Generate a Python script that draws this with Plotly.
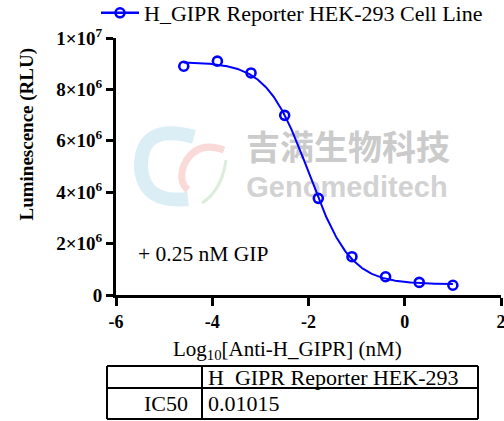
import numpy as np
import plotly.graph_objects as go

# ---------------- data ----------------
log_conc = [-4.592, -3.893, -3.194, -2.495, -1.796, -1.097, -0.398, 0.301, 1.0]
lum = [8.90e6, 9.10e6, 8.64e6, 6.99e6, 3.76e6, 1.49e6, 0.71e6, 0.49e6, 0.38e6]

# 4PL fit parameters
fit_top = 9.07e6
fit_bottom = 0.42e6
ic50_nM = 0.01015
hill = 1.0

x_ticks = [-6, -4, -2, 0, 2]
x_ticktext = ["-6", "-4", "-2", "0", "2"]
y_ticks = [0, 2e6, 4e6, 6e6, 8e6, 1e7]
y_ticktext = ["0", "2×10<sup>6</sup>", "4×10<sup>6</sup>", "6×10<sup>6</sup>",
              "8×10<sup>6</sup>", "1×10<sup>7</sup>"]

series_name = "H_GIPR Reporter HEK-293 Cell Line"
table_header = ["", "H_GIPR Reporter HEK-293"]
table_row = ["IC50", "0.01015"]

# ---------------- layout helpers ----------------
W, H = 504, 421
L, R, T, B = 116, 501, 38, 295   # plot area in pixels
XR = (-6, 2)
YR = (0, 1e7)
SERIF = "Times New Roman, Liberation Serif, Tinos, serif"


def px(x):
    return (x - L) / (R - L)


def py(y):
    return (B - y) / (B - T)


def dx(x):
    return XR[0] + (x - L) / (R - L) * (XR[1] - XR[0])


def dy(y):
    return YR[0] + (B - y) / (B - T) * (YR[1] - YR[0])


log_ic50 = np.log10(ic50_nM)
xc = np.linspace(min(log_conc), max(log_conc), 300)
yc = fit_bottom + (fit_top - fit_bottom) / (1 + 10 ** ((xc - log_ic50) * hill))

BLUE = "#0000ff"
fig = go.Figure()

# watermark (below the data)
fig.add_trace(go.Scatter(
    x=[dx(348), dx(347)], y=[dy(151), dy(190)], mode="text",
    text=["<b>吉满生物科技</b>", "<b>Genomeditech</b>"],
    textfont=dict(family=["Noto Sans CJK SC", "Liberation Sans"], size=[34, 29],
                  color=["#cbcbcb", "#d2d2d2"]),
    hoverinfo="skip", showlegend=False, cliponaxis=False))

fig.add_trace(go.Scatter(x=xc, y=yc, mode="lines",
                         line=dict(color=BLUE, width=2), showlegend=False,
                         hoverinfo="skip"))
fig.add_trace(go.Scatter(x=log_conc, y=lum, mode="markers",
                         marker=dict(symbol="circle-open", size=9, color=BLUE,
                                     line=dict(width=2.6, color=BLUE)),
                         showlegend=False, cliponaxis=False))
fig.add_trace(go.Scatter(x=[None], y=[None], mode="lines+markers", name=series_name,
                         line=dict(color=BLUE, width=2.5),
                         marker=dict(symbol="circle-open", size=9, color=BLUE,
                                     line=dict(width=2.6, color=BLUE))))

shapes = []
# logo swirl approximations
shapes.append(dict(type="path", xref="paper", yref="paper",
                   path=f"M {px(194)} {py(137)} Q {px(140)} {py(122)} {px(141)} {py(168)} "
                        f"Q {px(144)} {py(204)} {px(188)} {py(199)}",
                   line=dict(color="rgba(196,226,238,0.6)", width=14),
                   fillcolor="rgba(0,0,0,0)", layer="below"))
shapes.append(dict(type="path", xref="paper", yref="paper",
                   path=f"M {px(224)} {py(150)} Q {px(196)} {py(140)} {px(184)} {py(165)} "
                        f"Q {px(178)} {py(182)} {px(188)} {py(190)}",
                   line=dict(color="rgba(244,188,185,0.55)", width=7),
                   fillcolor="rgba(0,0,0,0)", layer="below"))
shapes.append(dict(type="path", xref="paper", yref="paper",
                   path=f"M {px(226)} {py(160)} Q {px(222)} {py(190)} {px(202)} {py(203)}",
                   line=dict(color="rgba(205,230,205,0.7)", width=3),
                   fillcolor="rgba(0,0,0,0)", layer="below"))

# table
tl, tr, tc = 107, 478, 202
tt, tm, tb = 366, 388, 419
for (x0, y0, x1, y1) in [(tl, tt, tr, tt), (tl, tm, tr, tm), (tl, tb, tr, tb),
                         (tl, tt, tl, tb), (tc, tt, tc, tb), (tr, tt, tr, tb)]:
    shapes.append(dict(type="line", xref="paper", yref="paper",
                       x0=px(x0), y0=py(y0), x1=px(x1), y1=py(y1),
                       line=dict(color="black", width=2)))

ann = []
ann.append(dict(xref="paper", yref="paper", x=px(136), y=py(254), xanchor="left",
                yanchor="middle", text="+ 0.25 nM GIP", showarrow=False,
                font=dict(family=SERIF, size=21.5, color="black")))
ann.append(dict(xref="paper", yref="paper", x=px(26), y=py(134.5), xanchor="center",
                yanchor="middle", text="<b>Luminescence (RLU)</b>", textangle=-90,
                showarrow=False, font=dict(family=SERIF, size=19, color="black")))
ann.append(dict(xref="paper", yref="paper", x=px(287), y=py(350), xanchor="center",
                yanchor="middle", text="Log<sub>10</sub>[Anti-H_GIPR] (nM)",
                showarrow=False, font=dict(family=SERIF, size=21, color="black")))
ann.append(dict(xref="paper", yref="paper", x=px(206), y=py(377), xanchor="left",
                yanchor="middle", text=table_header[1], showarrow=False,
                font=dict(family=SERIF, size=22, color="black")))
ann.append(dict(xref="paper", yref="paper", x=px(190), y=py(403), xanchor="right",
                yanchor="middle", text=table_row[0], showarrow=False,
                font=dict(family=SERIF, size=22, color="black")))
ann.append(dict(xref="paper", yref="paper", x=px(206), y=py(403), xanchor="left",
                yanchor="middle", text=table_row[1], showarrow=False,
                font=dict(family=SERIF, size=22, color="black")))

fig.update_layout(
    width=W, height=H, autosize=False,
    margin=dict(l=L, r=W - R, t=T, b=H - B, pad=0, autoexpand=False),
    plot_bgcolor="white", paper_bgcolor="white",
    shapes=shapes, annotations=ann,
    showlegend=True,
    legend=dict(xref="container", yref="container", x=96 / W, y=1 - 13 / H,
                xanchor="left", yanchor="middle",
                font=dict(family=SERIF, size=22, color="black"),
                bgcolor="rgba(0,0,0,0)", borderwidth=0, itemwidth=38),
    xaxis=dict(range=list(XR), tickvals=x_ticks, ticktext=x_ticktext,
               ticklabeloverflow="allow",
               showgrid=False, zeroline=False, showline=True, linecolor="black",
               linewidth=3, ticks="outside", ticklen=8, tickwidth=3, tickcolor="black",
               tickfont=dict(family=SERIF, size=18, color="black", weight="bold")),
    yaxis=dict(range=list(YR), tickvals=y_ticks, ticktext=y_ticktext,
               showgrid=False, zeroline=False, showline=True, linecolor="black",
               linewidth=3, ticks="outside", ticklen=7, tickwidth=3, tickcolor="black",
               tickfont=dict(family=SERIF, size=19, color="black", weight="bold")),
)

fig.write_html("out.html", config={"displayModeBar": False},
               post_script="document.body.style.margin='0';document.body.style.overflow='hidden';")
